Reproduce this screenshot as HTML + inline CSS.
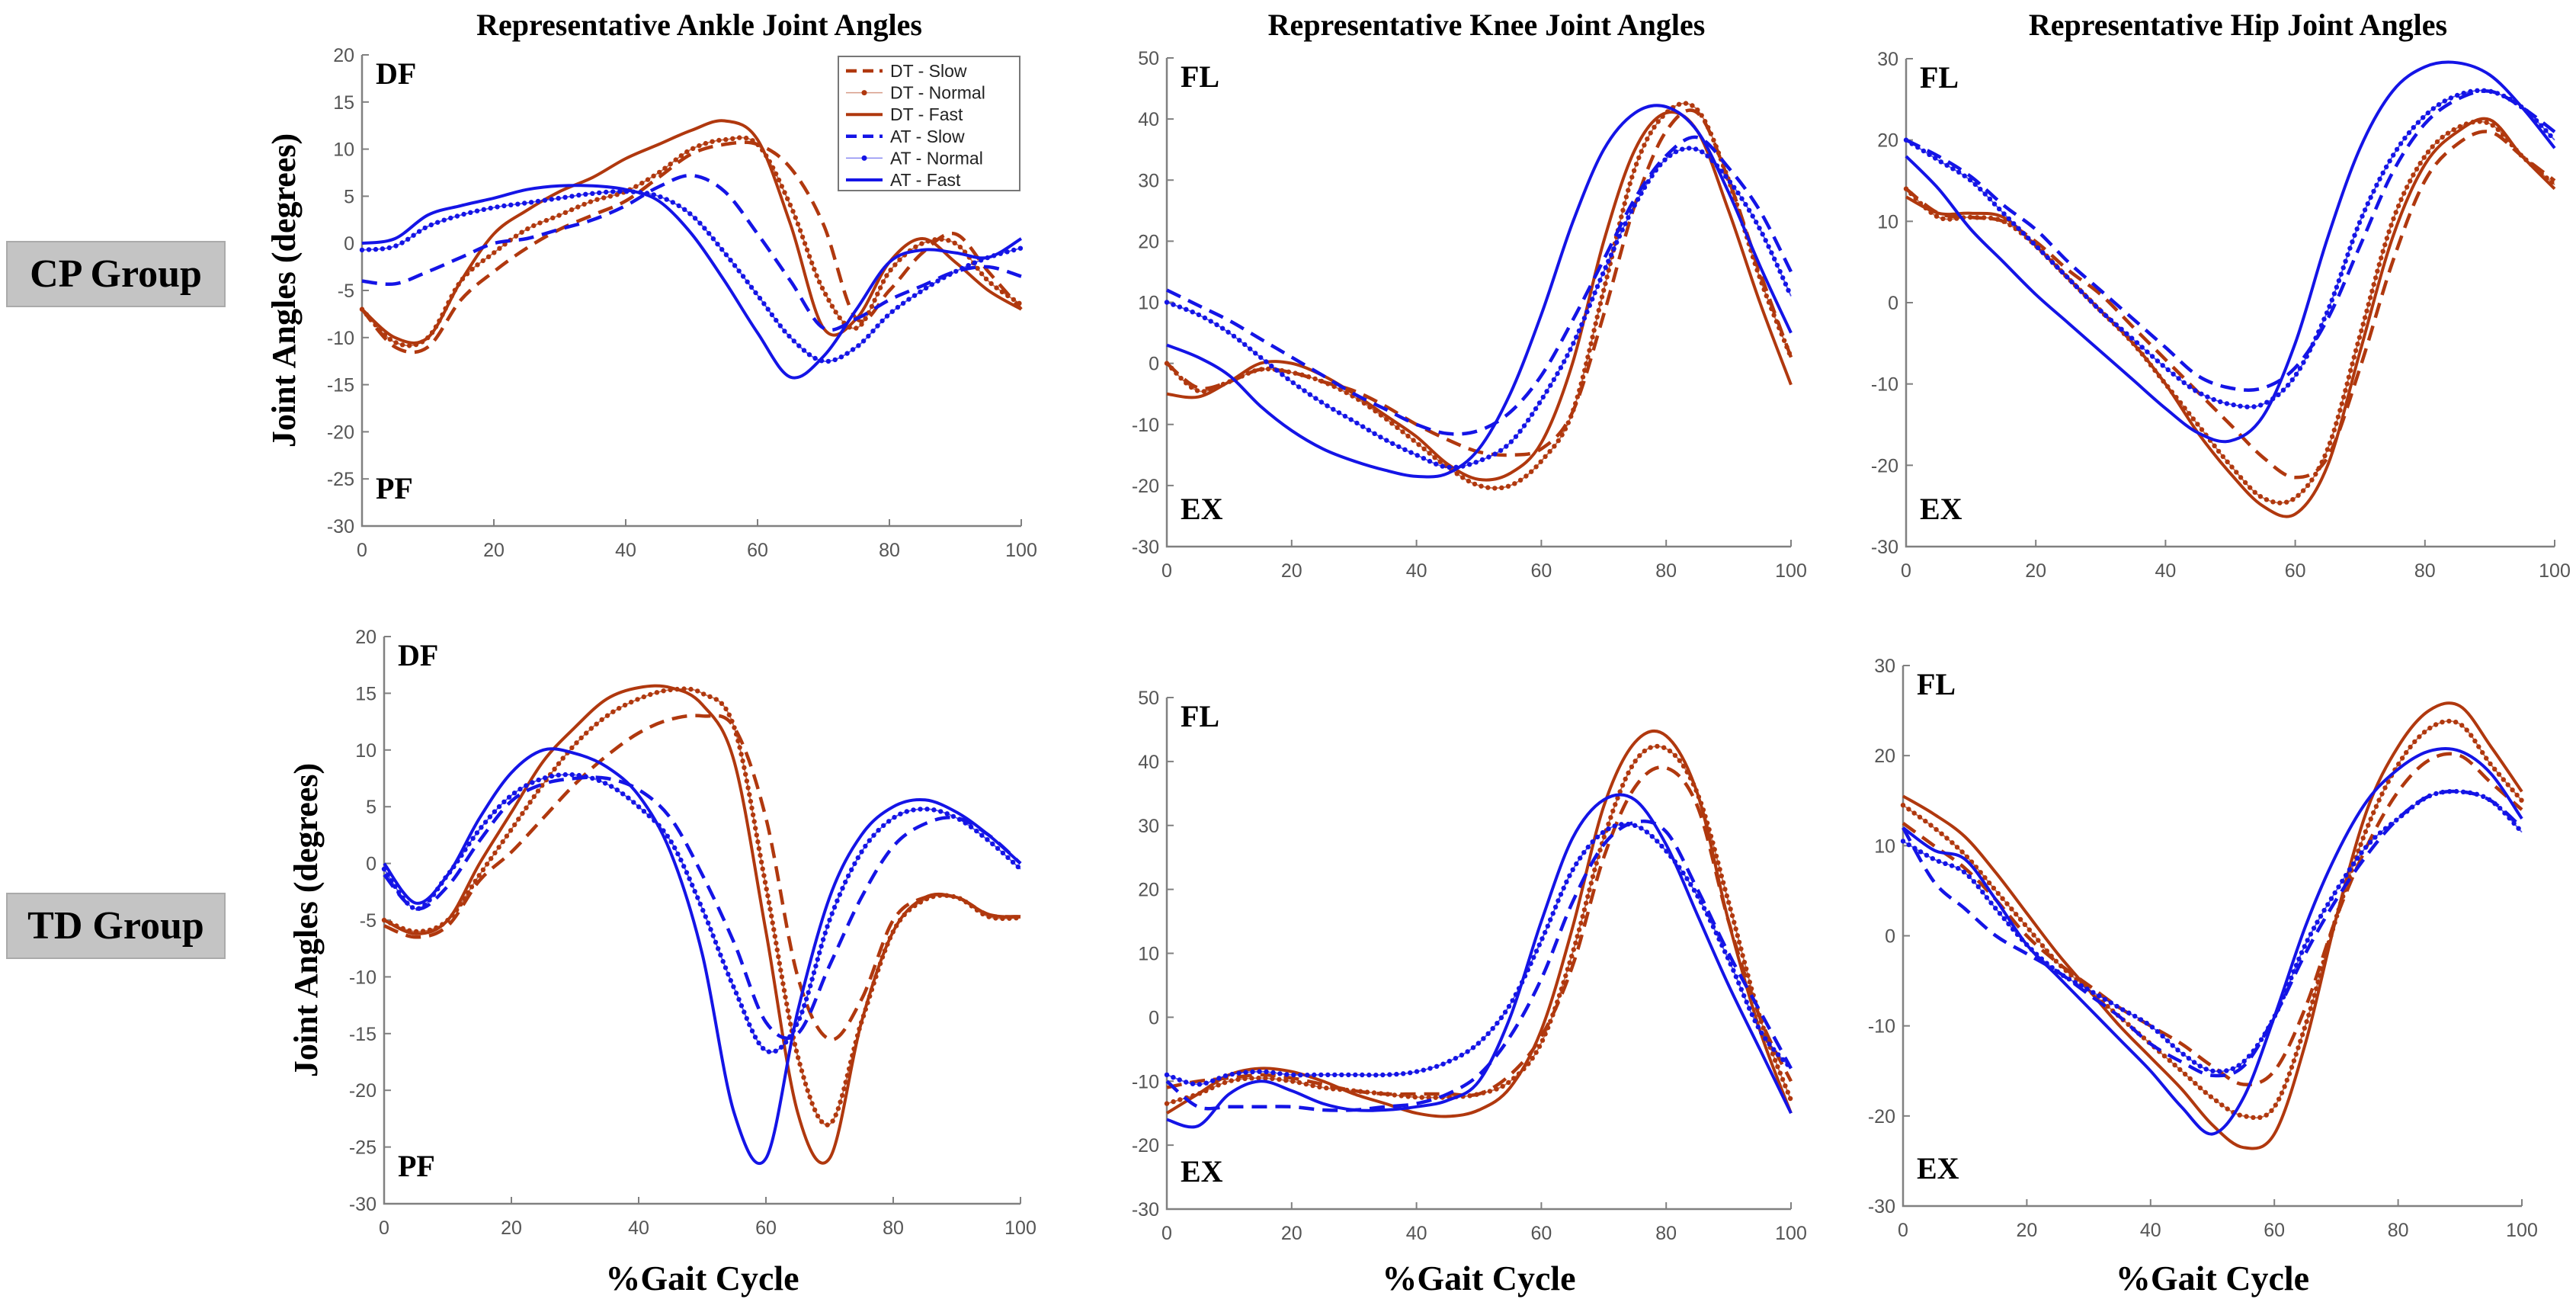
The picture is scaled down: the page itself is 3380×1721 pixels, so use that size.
<!DOCTYPE html>
<html><head><meta charset="utf-8">
<style>
html,body{margin:0;padding:0;background:#fff;}
svg{display:block;}
.tick{font-family:"Liberation Sans",Arial,sans-serif;font-size:25px;fill:#555;}
.ser{font-family:"Liberation Serif","Times New Roman",serif;font-weight:bold;fill:#000;}
</style></head>
<body>
<svg id="fig" width="3380" height="1721" viewBox="0 0 3380 1721" xmlns="http://www.w3.org/2000/svg">
  <rect x="9" y="317" width="286" height="85" fill="#c4c4c4" stroke="#aaa" stroke-width="2"/>
  <text class="ser" x="152" y="376" font-size="52" text-anchor="middle">CP Group</text>
  <rect x="9" y="1172" width="286" height="85" fill="#c4c4c4" stroke="#aaa" stroke-width="2"/>
  <text class="ser" x="152" y="1231" font-size="52" text-anchor="middle">TD Group</text>
</svg>
<script>
const xs = [0,5,10,15,20,25,30,35,40,45,50,55,60,65,70,75,80,85,90,95,100];
const seriesNames = ["DT - Slow","DT - Normal","DT - Fast","AT - Slow","AT - Normal","AT - Fast"];
const xTicks = [0,20,40,60,80,100];
const ankleTicks = [-30,-25,-20,-15,-10,-5,0,5,10,15,20];
const kneeTicks = [-30,-20,-10,0,10,20,30,40,50];
const hipTicks = [-30,-20,-10,0,10,20,30];

// CP ankle
const cpAnkleDTs = [-7,-11,-11,-6,-3,-0.5,1.5,3,4.5,7,9.5,10.5,10.5,8,2,-8,-5,-1,1,-3,-7];
const cpAnkleDTn = [-7,-10.5,-10,-4,-1,1.5,3,4.5,5.5,7.5,10,11,10.5,4,-5,-9,-3,0,0,-4,-6.5];
const cpAnkleDTf = [-7,-10,-10,-4,1,3.5,5.5,7,9,10.5,12,13,11,2,-9,-8,-2,0.5,-2,-5,-7];
const cpAnkleATs = [-4,-4.3,-3,-1.5,0,0.5,1.5,2.5,4,6,7.2,5.5,1,-4,-9,-8,-6,-4.5,-3,-2.5,-3.5];
const cpAnkleATn = [-0.7,-0.3,1.8,3,3.8,4.3,4.8,5.3,5.5,5,3,-1,-5.5,-10,-12.5,-11,-7.5,-5,-3,-1.5,-0.5];
const cpAnkleATf = [0,0.5,3,4,4.8,5.7,6.1,6.1,5.7,4.5,1,-4,-9.5,-14.2,-12,-7,-2,-0.7,-1,-1.5,0.5];
// TD ankle
const tdAnkleDTs = [-5.5,-6.5,-5.5,-1.5,1,4,7,9.5,11.5,12.7,13,12,4,-10,-15.5,-12,-5,-3,-3,-4.5,-4.7];
const tdAnkleDTn = [-5,-6,-5,-1,3,7,10.5,13,14.5,15.3,15,12,-2,-17,-23,-14,-6,-3.2,-3,-4.7,-4.8];
const tdAnkleDTf = [-5,-6.2,-5,0,4.5,9,12,14.5,15.5,15.5,14,9,-6,-22,-26,-14,-6,-3,-3,-4.5,-4.7];
const tdAnkleATs = [-1,-4,-2,2,5.5,7,7.5,7.5,6.5,4,-1,-7,-14,-15,-9,-3,1.5,3.5,4,2.5,0];
const tdAnkleATn = [-0.5,-4,-1,3,6,7.5,7.8,7,5,2,-4,-11,-16.5,-14,-5,1,4,4.8,4,2,-0.5];
const tdAnkleATf = [0,-3.5,-1,4,8,10,9.7,8.5,6,1,-8,-22,-26,-13,-3,2.5,5,5.6,4.5,2.5,0];
// CP knee
const cpKneeDTs = [0,-4,-3,-1,-1.5,-3,-4.5,-7,-10,-12.5,-14.5,-15,-14,-8,8,26,38,41,30,15,1];
const cpKneeDTn = [0,-4.5,-3,-1,-1.5,-3,-5.5,-9,-13,-17,-20,-20,-16,-8,12,32,41,41.5,30,14,1];
const cpKneeDTf = [-5,-5.5,-3,0,0,-2,-5,-8.5,-12,-16.5,-19,-18,-13,0,20,35,41,38,25,10,-3.5];
const cpKneeATs = [12,9.5,7,4,1,-2,-5,-7.5,-10,-11.5,-11,-8,-2,7,17,27,34,37,32,25,15];
const cpKneeATn = [10,8,5,1,-3,-6.5,-9.5,-12.5,-15,-17,-16,-13,-6,3,15,26,33.5,35,30,22,11];
const cpKneeATf = [3,1,-2,-7,-11,-14,-16,-17.5,-18.5,-18,-14,-5,8,23,35,41,42,38,28,16,5];
// TD knee
const tdKneeDTs = [-11,-10,-9.5,-9,-9.5,-10.5,-11.5,-12,-12,-12,-12,-9,-3,8,25,36,39,33,15,0,-10];
const tdKneeDTn = [-13.5,-12,-10,-9.5,-10,-11,-11.5,-12,-12.5,-12.5,-12,-10,-4,10,28,40,42,35,18,0,-13];
const tdKneeDTf = [-15,-12,-9,-8,-8.5,-10,-12,-13.5,-15,-15.5,-14.5,-11,-2,14,33,43,44,35,15,-2,-15];
const tdKneeATs = [-10,-14,-14,-14,-14,-14.5,-14.5,-14,-13.5,-12,-9,-3,6,18,27,30.5,29,20,10,1,-8];
const tdKneeATn = [-9,-10.5,-9,-8.5,-9,-9,-9,-9,-8.5,-7,-4,2,12,23,29,30,26,19,9,-2,-8];
const tdKneeATf = [-16,-17,-12,-10,-11.5,-13.5,-14.5,-14.5,-14,-13,-10,0,15,28,34,34,27,16,5,-5,-15];
// CP hip
const cpHipDTs = [14,11,10.5,10,7.5,4,1,-3,-7,-11,-15,-19,-21.5,-19,-8,5,15,19.5,21,18,15];
const cpHipDTn = [14,10.5,10.5,10,7,3,-1,-5,-10,-15,-20,-24,-24,-18,-4,10,18,21.5,22,18,14.5];
const cpHipDTf = [13,11,11,10.5,7,3,-1,-5,-10,-16,-21,-25,-26,-20,-6,8,17,21,22.5,18,14];
const cpHipATs = [20,18,15.5,12,9,5,1.5,-2,-5.5,-9,-10.5,-10.5,-8,-2,7,16,22,25,26,24,21];
const cpHipATn = [20,17.5,15,11,7,3,-1,-4.5,-8,-11,-12.5,-12.5,-9,-1,10,18,23,25.5,26,24,20];
const cpHipATf = [18,14,9,5,1,-2.5,-6,-9.5,-13,-16,-17,-14,-5,8,19,26,29,29.5,28,24,19];
// TD hip
const tdHipDTs = [12.5,10,7.5,4,0,-3,-5.5,-8,-10,-12,-14.5,-16.5,-15,-8,2,10,16,19.5,20,17,14];
const tdHipDTn = [14.5,12,9,5,1,-3,-6,-9,-12,-15,-18,-20,-19,-10,2,12,19,23,23.5,19,15];
const tdHipDTf = [15.5,13.5,11,7,2.5,-2,-6,-10,-13.5,-17,-21,-23.5,-22,-12,2,14,21,25,25.5,21,16];
const tdHipATs = [12,6,3,0,-2,-4,-6.5,-9,-12,-14,-15.5,-14.5,-9,-2,4,9,13,15.5,16,15,12];
const tdHipATn = [10.5,8.5,7,3,-1,-4,-6,-8,-10,-13,-15,-14,-9,-1,5,10,13,15.5,16,15,11.5];
const tdHipATf = [12,9.5,8.5,4,-1,-4.5,-8,-11.5,-15,-19,-22,-18,-9,1,9,15,18.5,20.5,20.5,18,13];

const NS = "http://www.w3.org/2000/svg";
const svg = document.getElementById("fig");
const BROWN = "#B0380E", BLUE = "#1414E6";
const styles = [
  {c:BROWN,t:"dash"},{c:BROWN,t:"dot"},{c:BROWN,t:"solid"},
  {c:BLUE,t:"dash"},{c:BLUE,t:"dot"},{c:BLUE,t:"solid"}
];

function el(tag, attrs, parent){
  const e = document.createElementNS(NS, tag);
  for (const k in attrs) e.setAttribute(k, attrs[k]);
  (parent||svg).appendChild(e);
  return e;
}

function smoothPath(pts){
  let d = "M"+pts[0][0].toFixed(1)+","+pts[0][1].toFixed(1);
  for (let i=0;i<pts.length-1;i++){
    const p0=pts[Math.max(0,i-1)], p1=pts[i], p2=pts[i+1], p3=pts[Math.min(pts.length-1,i+2)];
    const c1x=p1[0]+(p2[0]-p0[0])/6, c1y=p1[1]+(p2[1]-p0[1])/6;
    const c2x=p2[0]-(p3[0]-p1[0])/6, c2y=p2[1]-(p3[1]-p1[1])/6;
    d += " C"+c1x.toFixed(1)+","+c1y.toFixed(1)+" "+c2x.toFixed(1)+","+c2y.toFixed(1)+" "+p2[0].toFixed(1)+","+p2[1].toFixed(1);
  }
  return d;
}

const panels = [
  {id:"cp-ankle", x0:475,x1:1340,y0:72,y1:690, ymin:-30,ymax:20, ticks:ankleTicks, top:"DF", bot:"PF",
   series:[cpAnkleDTs,cpAnkleDTn,cpAnkleDTf,cpAnkleATs,cpAnkleATn,cpAnkleATf], title:"Representative Ankle Joint Angles", ylabel:true, legend:true},
  {id:"cp-knee", x0:1531,x1:2350,y0:76,y1:717, ymin:-30,ymax:50, ticks:kneeTicks, top:"FL", bot:"EX",
   series:[cpKneeDTs,cpKneeDTn,cpKneeDTf,cpKneeATs,cpKneeATn,cpKneeATf], title:"Representative Knee Joint Angles"},
  {id:"cp-hip", x0:2501,x1:3352,y0:77,y1:717, ymin:-30,ymax:30, ticks:hipTicks, top:"FL", bot:"EX",
   series:[cpHipDTs,cpHipDTn,cpHipDTf,cpHipATs,cpHipATn,cpHipATf], title:"Representative Hip Joint Angles"},
  {id:"td-ankle", x0:504,x1:1339,y0:835,y1:1579, ymin:-30,ymax:20, ticks:ankleTicks, top:"DF", bot:"PF",
   series:[tdAnkleDTs,tdAnkleDTn,tdAnkleDTf,tdAnkleATs,tdAnkleATn,tdAnkleATf], ylabel:true, xlabel:true},
  {id:"td-knee", x0:1531,x1:2350,y0:915,y1:1586, ymin:-30,ymax:50, ticks:kneeTicks, top:"FL", bot:"EX",
   series:[tdKneeDTs,tdKneeDTn,tdKneeDTf,tdKneeATs,tdKneeATn,tdKneeATf], xlabel:true},
  {id:"td-hip", x0:2497,x1:3309,y0:873,y1:1582, ymin:-30,ymax:30, ticks:hipTicks, top:"FL", bot:"EX",
   series:[tdHipDTs,tdHipDTn,tdHipDTf,tdHipATs,tdHipATn,tdHipATf], xlabel:true}
];

panels.forEach(p=>{
  const sx = v => p.x0 + (v-0)/(100-0)*(p.x1-p.x0);
  const sy = v => p.y1 - (v-p.ymin)/(p.ymax-p.ymin)*(p.y1-p.y0);
  const g = el("g",{});
  
  

  const ax = el("path",{d:"M"+p.x0+","+p.y0+" L"+p.x0+","+p.y1+" L"+p.x1+","+p.y1, fill:"none", stroke:"#808080","stroke-width":2.5}, g);
  
  
  p.ticks.forEach(t=>{
    const y = sy(t);
    el("line",{x1:p.x0,y1:y,x2:p.x0+9,y2:y,stroke:"#808080","stroke-width":2}, g);
    const tx = el("text",{x:p.x0-10,y:y+9,"text-anchor":"end",class:"tick"}, g);
    tx.textContent = t;
    
    
  });
  xTicks.forEach(t=>{
    const x = sx(t);
    el("line",{x1:x,y1:p.y1,x2:x,y2:p.y1-9,stroke:"#808080","stroke-width":2}, g);
    const tx = el("text",{x:x,y:p.y1+40,"text-anchor":"middle",class:"tick"}, g);
    tx.textContent = t;
    
    
  });

  const tl = el("text",{x:p.x0+18,y:p.y0+38,class:"ser","font-size":40}, g);
  tl.textContent = p.top;
  
  
  const bl = el("text",{x:p.x0+18,y:p.y1-36,class:"ser","font-size":40}, g);
  bl.textContent = p.bot;
  
  

  if (p.title){
    const tt = el("text",{x:(p.x0+p.x1)/2+10,y:46,class:"ser","font-size":40,"text-anchor":"middle"}, g);
    tt.textContent = p.title;
    
    
  }
  if (p.ylabel){
    const cx = p.x0-88, cy=(p.y0+p.y1)/2;
    const yl = el("text",{x:cx,y:cy,class:"ser","font-size":44,"text-anchor":"middle",transform:"rotate(-90 "+cx+" "+cy+")"}, g);
    yl.textContent = "Joint Angles (degrees)";
    
    
  }
  if (p.xlabel){
    const xl = el("text",{x:(p.x0+p.x1)/2,y:1692,class:"ser","font-size":46,"text-anchor":"middle"}, g);
    xl.textContent = "%Gait Cycle";
    
    
  }

  p.series.forEach((vals,si)=>{
    const st = styles[si];
    const pts = vals.map((v,i)=>[sx(xs[i]), sy(v)]);
    const d = smoothPath(pts);
    const path = el("path",{d:d,fill:"none",stroke:st.c,"stroke-linejoin":"round"}, g);
    
    
    if (st.t==="dash"){ path.setAttribute("stroke-width",4.5); path.setAttribute("stroke-dasharray","20 11"); }
    else if (st.t==="solid"){ path.setAttribute("stroke-width",4); }
    else {
      path.setAttribute("stroke-width",1.8);
      path.setAttribute("stroke-opacity",0.7);
      const L = path.getTotalLength();
      const dg = el("g",{fill:st.c}, g);
      
      
      for (let l=0;l<=L;l+=9){
        const q = path.getPointAtLength(l);
        el("circle",{cx:q.x.toFixed(1),cy:q.y.toFixed(1),r:3.2}, dg);
      }
    }
  });

  if (p.legend){
    const lg = el("g",{}, g);
    
    
    el("rect",{x:1100,y:74,width:238,height:176,fill:"#fff",stroke:"#777","stroke-width":2}, lg);
    seriesNames.forEach((n,i)=>{
      const y = 93 + i*28.6;
      const st = styles[i];
      const ln = el("line",{x1:1110,y1:y,x2:1158,y2:y,stroke:st.c}, lg);
      
      
      if (st.t==="dash"){ ln.setAttribute("stroke-width",4.5); ln.setAttribute("stroke-dasharray","14 8"); }
      else if (st.t==="solid"){ ln.setAttribute("stroke-width",4); }
      else { ln.setAttribute("stroke-width",1.5); ln.setAttribute("stroke-opacity",0.5); el("circle",{cx:1134,cy:y,r:3.5,fill:st.c}, lg); }
      const tx = el("text",{x:1168,y:y+8,"font-family":"Liberation Sans, Arial, sans-serif","font-size":23,fill:"#222"}, lg);
      tx.textContent = n;
      
      
    });
  }
});
</script>
</body></html>
